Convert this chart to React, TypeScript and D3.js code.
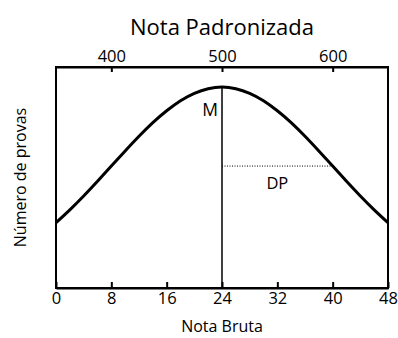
import React, { useRef, useEffect } from "react";
import { select, scaleLinear, axisBottom, axisTop, line, curveNatural } from "d3";

// raw score (Nota Bruta) and relative number of tests
const rawScores = [0, 2, 4, 6, 8, 10, 12, 14, 16, 18, 20, 22, 24, 26, 28, 30, 32, 34, 36, 38, 40, 42, 44, 46, 48];
const counts = [0.325, 0.389, 0.458, 0.531, 0.607, 0.682, 0.755, 0.823, 0.882, 0.932, 0.969, 0.992, 1.0, 0.992, 0.969, 0.932, 0.882, 0.823, 0.755, 0.682, 0.607, 0.531, 0.458, 0.389, 0.325];
const rawTicks = [0, 8, 16, 24, 32, 40, 48];
const stdTicks = [400, 500, 600];
const mean = 24;
const sd = 16;

const W = 398;
const H = 338;
const FONT = "'Open Sans', sans-serif";

const App = () => {
  const svgRef = useRef<SVGSVGElement>(null);

  useEffect(() => {
    const svg = select(svgRef.current);
    svg.selectAll("*").remove();

    const left = 56, right = 388, top = 67, bottom = 288;

    const x = scaleLinear().domain([0, 48]).range([left, right]);
    // standard score: 500 at the mean, 100 per sd
    const xStd = scaleLinear()
      .domain([500 - (mean / sd) * 100, 500 + ((48 - mean) / sd) * 100])
      .range([left, right]);
    const y = scaleLinear().domain([0, 1.1]).range([bottom, top]);

    // frame
    svg.append("rect")
      .attr("x", left).attr("y", top)
      .attr("width", right - left).attr("height", bottom - top)
      .attr("fill", "none").attr("stroke", "#000").attr("stroke-width", 2);

    const xAxis = axisBottom(x).tickValues(rawTicks).tickSizeInner(-6).tickSizeOuter(0).tickPadding(4);
    const gx = svg.append("g").attr("transform", `translate(0,${bottom})`).call(xAxis);
    gx.select(".domain").attr("stroke-width", 2);
    gx.selectAll(".tick line").attr("stroke-width", 2);
    gx.selectAll("text").style("font-family", FONT).style("font-size", "16.5px").attr("fill", "#000");

    const topAxis = axisTop(xStd).tickValues(stdTicks).tickSizeInner(-5).tickSizeOuter(0).tickPadding(5);
    const gt = svg.append("g").attr("transform", `translate(0,${top})`).call(topAxis);
    gt.select(".domain").attr("stroke-width", 2);
    gt.selectAll(".tick line").attr("stroke-width", 2);
    gt.selectAll("text").style("font-family", FONT).style("font-size", "16.5px").attr("fill", "#000");

    // mean line
    svg.append("line")
      .attr("x1", x(mean)).attr("x2", x(mean))
      .attr("y1", bottom).attr("y2", y(1))
      .attr("stroke", "#000").attr("stroke-width", 1.5);

    // sd dotted line
    const sdIdx = rawScores.indexOf(mean + sd);
    svg.append("line")
      .attr("x1", x(mean)).attr("x2", x(mean + sd))
      .attr("y1", y(counts[sdIdx])).attr("y2", y(counts[sdIdx]))
      .attr("stroke", "#000").attr("stroke-width", 1).attr("stroke-dasharray", "1,1.5");

    // curve
    const curve = line<number>()
      .x((d, i) => x(rawScores[i]))
      .y(d => y(d))
      .curve(curveNatural);
    svg.append("path")
      .datum(counts)
      .attr("d", curve)
      .attr("fill", "none")
      .attr("stroke", "#000")
      .attr("stroke-width", 3);

    const label = (tx: number, ty: number, text: string, size: number, anchor = "middle") =>
      svg.append("text")
        .attr("x", tx).attr("y", ty)
        .attr("text-anchor", anchor)
        .style("font-family", FONT)
        .style("font-size", `${size}px`)
        .text(text);

    label(x(mean) - 4, 116, "M", 17.5, "end");
    label((x(mean) + x(mean + sd)) / 2, 189, "DP", 16.5);
    label((left + right) / 2, 35, "Nota Padronizada", 22);
    label((left + right) / 2, 332, "Nota Bruta", 16);
    label(0, 0, "Número de provas", 16)
      .attr("transform", `translate(26,${(top + bottom) / 2}) rotate(-90)`);
  }, []);

  return (
    <svg
      ref={svgRef}
      width={W}
      height={H}
      style={{ position: "absolute", left: 0, top: 0, background: "#fff" }}
    />
  );
};

export default App;
